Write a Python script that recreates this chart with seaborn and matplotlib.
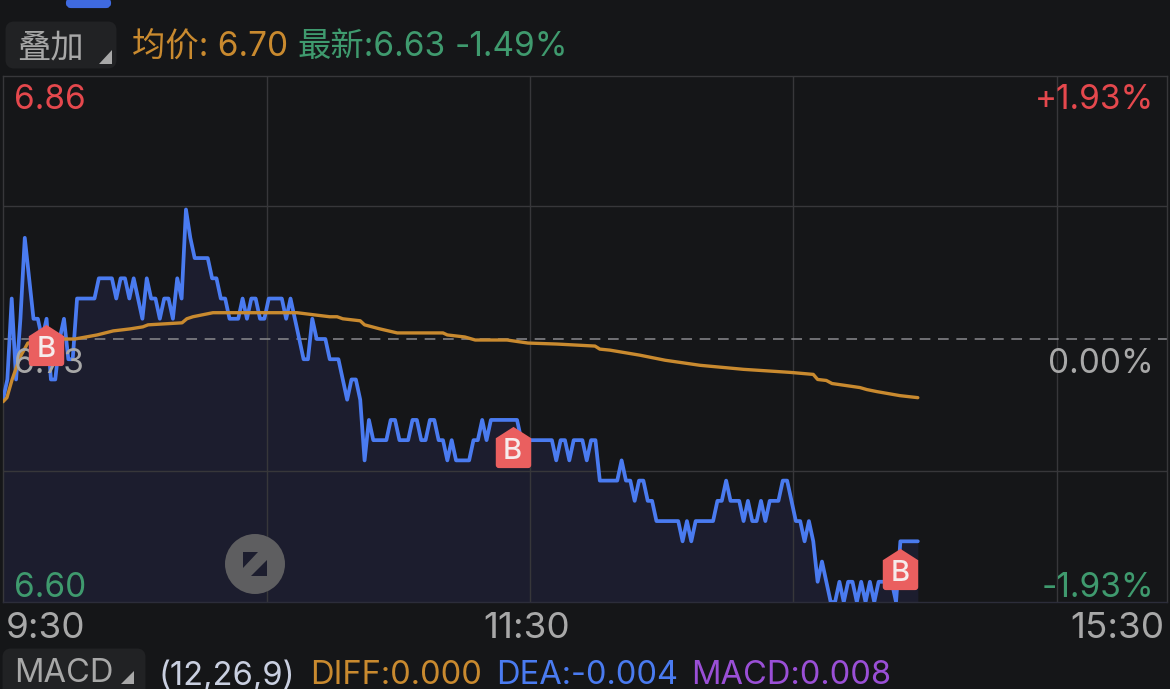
import numpy as np
import pandas as pd
import matplotlib.pyplot as plt
import seaborn as sns
from matplotlib.patches import FancyBboxPatch, Circle, Polygon
from matplotlib.path import Path

# 分时数据 (每分钟一个价格)
prices = [
    6.70, 6.71, 6.75, 6.71, 6.74, 6.78, 6.76, 6.74, 6.74, 6.73, 6.74, 6.71, 6.71, 6.73, 6.74, 6.72, 6.72,
    6.75, 6.75, 6.75, 6.75, 6.75, 6.76, 6.76, 6.76, 6.76, 6.75, 6.76, 6.76, 6.75, 6.76, 6.75, 6.74,
    6.76, 6.75, 6.75, 6.74, 6.75, 6.75, 6.74, 6.76, 6.75, 6.794, 6.78, 6.77, 6.77, 6.77, 6.77, 6.76, 6.76,
    6.75, 6.75, 6.74, 6.74, 6.74, 6.75, 6.74, 6.75, 6.75, 6.74, 6.74, 6.75, 6.75, 6.75, 6.75, 6.74,
    6.75, 6.74, 6.73, 6.72, 6.72, 6.74, 6.73, 6.73, 6.73, 6.72, 6.72, 6.72, 6.71, 6.70, 6.71, 6.71,
    6.70, 6.67, 6.69, 6.68, 6.68, 6.68, 6.68, 6.69, 6.69, 6.68, 6.68, 6.68, 6.69, 6.69, 6.68, 6.68,
    6.69, 6.69, 6.68, 6.68, 6.67, 6.68, 6.67, 6.67, 6.67, 6.67, 6.68, 6.68, 6.69, 6.68, 6.69, 6.69,
    6.69, 6.69, 6.69, 6.69, 6.69, 6.68, 6.68, 6.68, 6.68, 6.68, 6.68, 6.68, 6.68, 6.67, 6.68, 6.68,
    6.67, 6.68, 6.68, 6.68, 6.67, 6.68, 6.68, 6.66, 6.66, 6.66, 6.66, 6.66, 6.67, 6.66, 6.66, 6.65,
    6.66, 6.66, 6.65, 6.65, 6.64, 6.64, 6.64, 6.64, 6.64, 6.64, 6.63, 6.64, 6.63, 6.64, 6.64, 6.64,
    6.64, 6.64, 6.65, 6.65, 6.66, 6.65, 6.65, 6.65, 6.64, 6.65, 6.64, 6.64, 6.65, 6.64, 6.65, 6.65,
    6.65, 6.66, 6.66, 6.65, 6.64, 6.64, 6.63, 6.64, 6.63, 6.61, 6.62, 6.61, 6.60, 6.60, 6.61, 6.60,
    6.61, 6.61, 6.60, 6.61, 6.60, 6.61, 6.60, 6.61, 6.61, 6.61, 6.61, 6.60, 6.63, 6.63, 6.63, 6.63, 6.63,
]

# 均价线 (从图上读的折点)
avg_minutes = [
    0, 0.9, 2.1, 3.9, 5.7, 13.8, 16.5, 21.6, 25.3, 29.2, 32.1, 33.3, 41.1, 42.2, 43.6, 48.2, 67.5, 71.2,
    75, 76.7, 78, 82, 83, 86.5, 90.5, 101, 102, 106, 108.4, 115.7, 120.5, 127.2, 135.9, 137, 139.3,
    146.2, 152, 160, 170, 180.7, 186, 187, 189, 190.3, 196.7, 198.3, 200.6, 205.9, 210,
]
avg_prices = [
    6.699, 6.701, 6.710, 6.721, 6.728, 6.730, 6.730, 6.732, 6.734, 6.735, 6.736, 6.737, 6.738, 6.740,
    6.741, 6.743, 6.743, 6.742, 6.741, 6.741, 6.740, 6.739, 6.737, 6.735, 6.733, 6.733, 6.732, 6.731,
    6.7295, 6.7295, 6.728, 6.7275, 6.7265, 6.725, 6.7245, 6.722, 6.7195, 6.717, 6.715, 6.7135, 6.7125,
    6.710, 6.7095, 6.708, 6.706, 6.705, 6.704, 6.702, 6.701,
]

# 买入点
buy_minutes = [9.9, 117, 206]
buy_prices = [6.7272, 6.6767, 6.6165]

y_top = 6.86
y_bottom = 6.60
y_mid = 6.73
grid_prices = [6.7955, 6.665]
grid_minutes = [60.6, 121, 181.4, 241.9]

BG = "#151618"
GRID = "#37373a"
BLUE = "#4a7bf0"
ORANGE = "#c98a2f"
RED = "#e5484d"
GREEN = "#3f9a6e"
GRAY = "#a8a8a8"
FILL = "#1c1d2e"

sns.set_theme(style="dark")
plt.rcParams["font.family"] = ["Inter", "Noto Sans CJK SC", "DejaVu Sans"]

fig = plt.figure(figsize=(11.7, 6.89), dpi=100, facecolor=BG)
ax = fig.add_axes([3 / 1170, 1 - 602 / 689, 1164 / 1170, 526 / 689], facecolor=BG)

df = pd.DataFrame({"minute": np.arange(len(prices)), "price": prices})
df_avg = pd.DataFrame({"minute": avg_minutes, "price": avg_prices})

ax.fill_between(df["minute"], df["price"], y_bottom, color=FILL, lw=0, zorder=1)
for m in grid_minutes:
    ax.axvline(m, color=GRID, lw=1.0, zorder=1.5)
for p in grid_prices:
    ax.axhline(p, color=GRID, lw=1.0, zorder=1.5)
ax.axhline(y_mid, color="#8a8a8e", lw=1.1, dashes=(7, 5), zorder=1.5)

sns.lineplot(data=df, x="minute", y="price", color=BLUE, lw=2.7, ax=ax, zorder=3, errorbar=None)
sns.lineplot(data=df_avg, x="minute", y="price", color=ORANGE, lw=2.4, ax=ax, zorder=4, errorbar=None)

# B 标记: 带圆角的小房子
house = Path(
    [(0, 1), (0.86, 0.45), (0.86, -0.85), (0.86, -1), (0.71, -1), (-0.71, -1), (-0.86, -1), (-0.86, -0.85),
     (-0.86, 0.45), (0, 1), (0, 1)],
    [Path.MOVETO, Path.LINETO, Path.LINETO, Path.CURVE3, Path.CURVE3, Path.LINETO, Path.CURVE3, Path.CURVE3,
     Path.LINETO, Path.LINETO, Path.CLOSEPOLY],
)
ax.scatter(buy_minutes, buy_prices, marker=house, s=880, color="#ea5f5f", lw=0, zorder=6)
for m, p in zip(buy_minutes, buy_prices):
    ax.text(m, p - 0.0022, "B", color="#f6ecec", fontsize=21, fontweight="medium", ha="center", va="center", zorder=7)

ax.set_xlim(0, 267.2)
ax.set_ylim(y_bottom, y_top)
ax.set_xticks([])
ax.set_yticks([])
ax.set_xlabel("")
ax.set_ylabel("")
for s in ax.spines.values():
    s.set_color(GRID)
    s.set_linewidth(1.0)
ax.spines["bottom"].set_color("#2c2d3a")

# 界面部分用像素坐标
ui = fig.add_axes([0, 0, 1, 1], facecolor="none", zorder=-1)
ui.set_xlim(0, 1170)
ui.set_ylim(689, 0)
ui.axis("off")
over = fig.add_axes([0, 0, 1, 1], facecolor="none", zorder=5)
over.set_xlim(0, 1170)
over.set_ylim(689, 0)
over.axis("off")


def label(x, y, s, color, size=24, ha="left", target=ui):
    target.text(x, y, s, color=color, fontsize=size, ha=ha, va="center")


def chart_label(x, y, s, color, ha="left"):
    # 画在主图里, 这样 B 标记能盖住 6.73
    ax.text(x, y, s, color=color, fontsize=24, ha=ha, va="center", zorder=5, transform=ui.transData)


ui.add_patch(FancyBboxPatch((68, 0), 41, 6, boxstyle="round,pad=0,rounding_size=3", fc="#3f6ae0", ec="#3f6ae0", lw=3))
ui.add_patch(FancyBboxPatch((9, 25), 104, 40, boxstyle="round,pad=0,rounding_size=5", fc="#212224", ec="#212224", lw=5))
ui.add_patch(Polygon([(112, 50), (112, 64), (99, 64)], fc=GRAY, ec="none"))
ui.add_patch(FancyBboxPatch((6, 652), 136, 50, boxstyle="round,pad=0,rounding_size=5", fc="#212224", ec="#212224", lw=5))
ui.add_patch(Polygon([(134, 671), (134, 684), (121, 684)], fc=GRAY, ec="none"))

label(17, 48, "叠加", GRAY)
label(132, 47, "均价: 6.70", ORANGE)
label(297, 47, "最新:6.63", GREEN)
label(455, 47, "-1.49%", GREEN)

chart_label(14, 100, "6.86", RED)
chart_label(14, 364, "6.73", GRAY)
chart_label(14, 588, "6.60", GREEN)
chart_label(1154, 100, "+1.93%", RED, ha="right")
chart_label(1154, 364, "0.00%", GRAY, ha="right")
chart_label(1154, 588, "-1.93%", GREEN, ha="right")

label(6, 628, "9:30", GRAY, size=26.5)
label(527, 628, "11:30", GRAY, size=26.5, ha="center")
label(1164, 628, "15:30", GRAY, size=26.5, ha="right")

label(14, 674, "MACD", GRAY, size=23.5)
label(158, 676, "(12,26,9)", "#c9cfe0", size=23.5)
label(310, 676, "DIFF:0.000", ORANGE, size=23.5)
label(496, 676, "DEA:-0.004", BLUE, size=23.5)
label(691, 676, "MACD:0.008", "#9a4fd6", size=23.5)

# 缩放按钮
over.add_patch(Circle((255, 564), 30, fc="#5e5e60", ec="none"))
over.add_patch(Polygon([(243, 552), (258, 552), (243, 568)], fc=FILL, ec="none"))
over.add_patch(Polygon([(267, 560), (267, 576), (251, 576)], fc=FILL, ec="none"))

fig.savefig("out.png", dpi=100, facecolor=BG)
